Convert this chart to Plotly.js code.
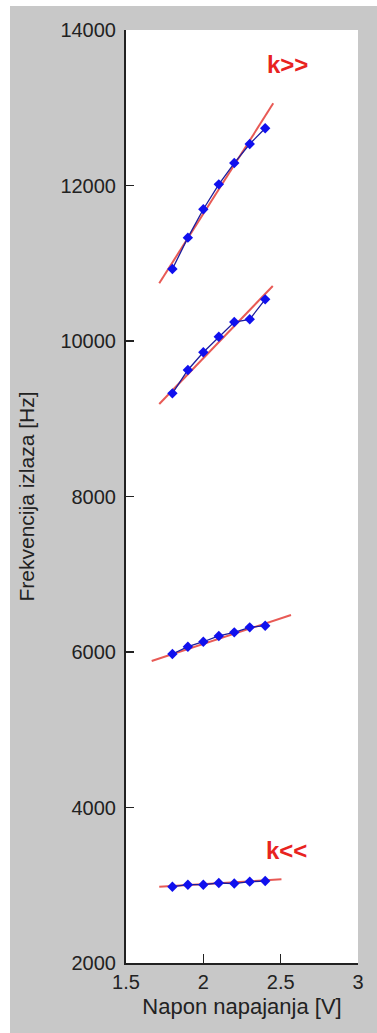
<!DOCTYPE html>
<html>
<head>
<meta charset="utf-8">
<script src="https://cdn.plot.ly/plotly-3.0.1.min.js"></script>
<style>
  html, body { margin: 0; padding: 0; background: #ffffff; }
  #chart { position: absolute; left: 10px; top: 6px; width: 367px; height: 1027px; }
</style>
</head>
<body>
<div id="chart"></div>
<script>
// Supply voltage [V]
const napon = [1.8, 1.9, 2.0, 2.1, 2.2, 2.3, 2.4];

// Measured output frequency [Hz] for four settings
const serijaA = [10926, 11329, 11695, 12015, 12289, 12534, 12736]; // k>>
const serijaB = [9327, 9627, 9855, 10055, 10244, 10279, 10536];
const serijaC = [5974, 6068, 6132, 6206, 6253, 6317, 6338];
const serijaD = [2981, 3007, 3007, 3029, 3022, 3046, 3054];      // k<<

// Fitted straight lines (end points)
const fitAx = [1.715, 2.452]; const fitAy = [10742, 13057];
const fitBx = [1.715, 2.449]; const fitBy = [9190, 10707];
const fitCx = [1.666, 2.567]; const fitCy = [5884, 6476];
const fitDx = [1.715, 2.505]; const fitDy = [2981, 3076];

// Annotation labels
const oznake = ["k>>", "k<<"];
const oznakeX = [2.544, 2.54];
const oznakeY = [13550, 3453];

const xTicks = [1.5, 2, 2.5, 3];
const yTicks = [2000, 4000, 6000, 8000, 10000, 12000, 14000];

const fitColor = '#e85a55';
const lineColor = '#1c1c9c';
const markColor = '#1010ee';

function fit(x, y) {
  return { x: x, y: y, type: 'scatter', mode: 'lines',
           line: { color: fitColor, width: 2 }, hoverinfo: 'skip', showlegend: false };
}
function meas(y) {
  return { x: napon, y: y, type: 'scatter', mode: 'lines+markers',
           line: { color: lineColor, width: 1.3 },
           marker: { symbol: 'diamond', size: 8, color: markColor },
           showlegend: false };
}

const data = [
  fit(fitAx, fitAy), fit(fitBx, fitBy), fit(fitCx, fitCy), fit(fitDx, fitDy),
  meas(serijaA), meas(serijaB), meas(serijaC), meas(serijaD)
];

const annotations = oznake.map((t, i) => ({
  x: oznakeX[i], y: oznakeY[i], xref: 'x', yref: 'y', text: t, showarrow: false,
  font: { family: 'Liberation Sans, Arial, sans-serif', size: 24, color: '#e8231f', weight: 'bold' }
}));

const tickFont = { family: 'Liberation Sans, Arial, sans-serif', size: 20, color: '#222222' };

const layout = {
  width: 367, height: 1027,
  margin: { l: 116, r: 19, t: 24, b: 70, pad: 0 },
  paper_bgcolor: '#c8c8c8',
  plot_bgcolor: '#ffffff',
  showlegend: false,
  xaxis: {
    range: [1.5, 3], tickvals: xTicks, ticktext: xTicks.map(String),
    ticks: 'inside', ticklen: 9, tickwidth: 1.5, tickcolor: '#222222',
    showline: true, linecolor: '#222222', linewidth: 2,
    showgrid: false, zeroline: false, mirror: false,
    tickfont: tickFont,
    title: { text: 'Napon napajanja [V]', font: { family: 'Liberation Sans, Arial, sans-serif', size: 22, color: '#222222' }, standoff: 7 }
  },
  yaxis: {
    range: [2000, 14000], tickvals: yTicks, ticktext: yTicks.map(String),
    ticks: 'inside', ticklen: 8, tickwidth: 1.5, tickcolor: '#222222',
    showline: true, linecolor: '#222222', linewidth: 2,
    showgrid: false, zeroline: false, mirror: false,
    tickfont: tickFont, ticklabelstandoff: 4,
    title: { text: 'Frekvencija izlaza [Hz]', font: { family: 'Liberation Sans, Arial, sans-serif', size: 21, color: '#222222' }, standoff: 20 }
  },
  annotations: annotations
};

Plotly.newPlot('chart', data, layout, { displayModeBar: false, staticPlot: true });
</script>
</body>
</html>
